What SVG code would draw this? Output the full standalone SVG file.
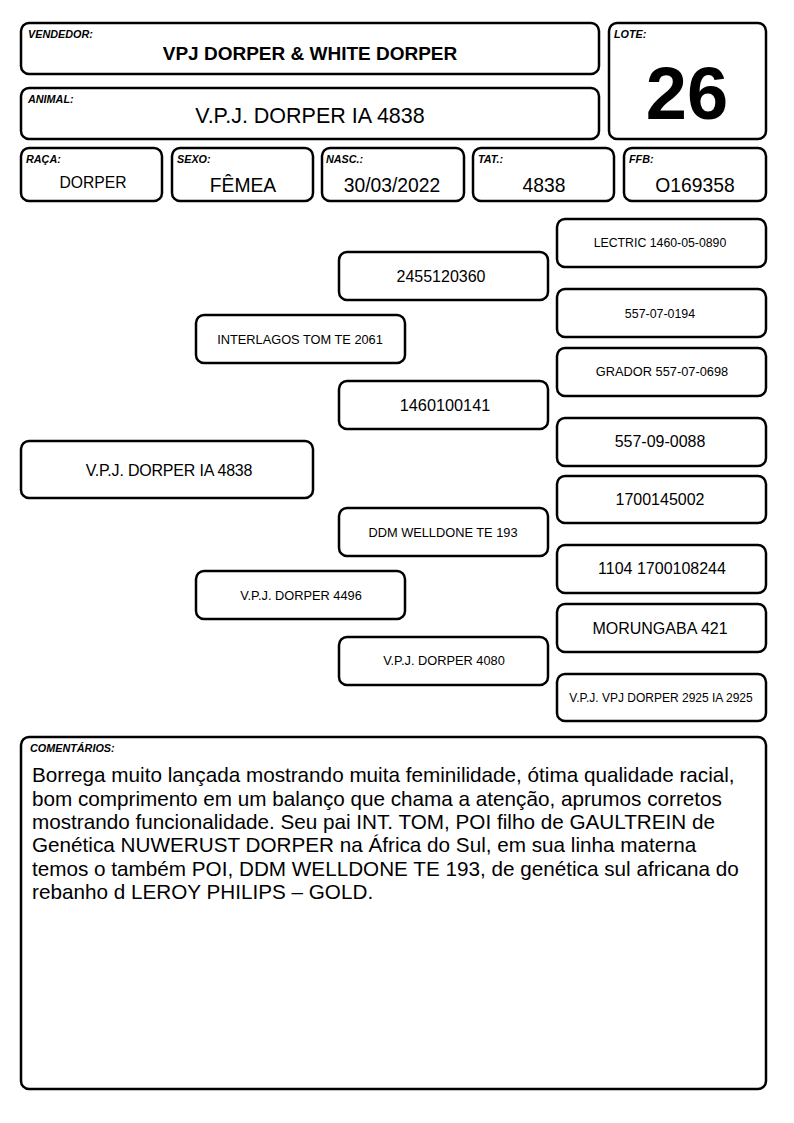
<svg xmlns="http://www.w3.org/2000/svg" width="794" height="1123" viewBox="0 0 794 1123">
<style>
.b{fill:#fff;stroke:#000;stroke-width:2.5}
text{font-family:"Liberation Sans",Arial,sans-serif;fill:#000}
.lbl{font-size:10.8px;font-weight:bold;font-style:italic}
.c{text-anchor:middle}
.v{font-size:19.3px}
.s{font-size:12.8px}
.m{font-size:16px}
.x{font-size:12.4px}
.cm{font-size:20.7px}
</style>
<rect width="794" height="1123" fill="#fff"/>
<g id="vendedor"><rect class="b" x="21" y="23" width="578" height="51" rx="8"/><text class="lbl" x="28" y="38">VENDEDOR:</text><text class="c" x="310" y="60" font-size="19" font-weight="bold">VPJ DORPER &amp; WHITE DORPER</text></g>
<g id="animal"><rect class="b" x="21" y="88" width="578" height="51" rx="8"/><text class="lbl" x="28" y="103">ANIMAL:</text><text class="c" x="310" y="123" font-size="21.5">V.P.J. DORPER IA 4838</text></g>
<g id="lote"><rect class="b" x="609" y="23" width="157" height="116" rx="8"/><text class="lbl" x="614" y="38">LOTE:</text><text class="c" x="687" y="119" font-size="74" font-weight="bold">26</text></g>
<g id="raca"><rect class="b" x="21" y="148" width="141" height="53" rx="8"/><text class="lbl" x="26" y="163">RAÇA:</text><text class="c" x="93" y="188" font-size="15.7">DORPER</text></g>
<g id="sexo"><rect class="b" x="172" y="148" width="141" height="53" rx="8"/><text class="lbl" x="177" y="163">SEXO:</text><text class="c v" x="243" y="192">FÊMEA</text></g>
<g id="nasc"><rect class="b" x="322" y="148" width="142" height="53" rx="8"/><text class="lbl" x="326" y="163">NASC.:</text><text class="c v" x="392" y="192">30/03/2022</text></g>
<g id="tat"><rect class="b" x="473" y="148" width="141" height="53" rx="8"/><text class="lbl" x="478" y="163">TAT.:</text><text class="c v" x="544" y="192">4838</text></g>
<g id="ffb"><rect class="b" x="624" y="148" width="142" height="53" rx="8"/><text class="lbl" x="629" y="163">FFB:</text><text class="c v" x="695" y="192">O169358</text></g>
<g id="connectors"></g>
<g id="p-animal"><rect class="b" x="21" y="441" width="292" height="57" rx="8"/><text class="c m" x="169" y="476" letter-spacing="-0.2">V.P.J. DORPER IA 4838</text></g>
<g id="pai"><rect class="b" x="196" y="315" width="209" height="48" rx="8"/><text class="c s" x="300" y="344">INTERLAGOS TOM TE 2061</text></g>
<g id="mae"><rect class="b" x="196" y="571" width="209" height="48" rx="8"/><text class="c s" x="301" y="600">V.P.J. DORPER 4496</text></g>
<g id="avo-pp"><rect class="b" x="339" y="252" width="209" height="48" rx="8"/><text class="c m" x="441" y="282">2455120360</text></g>
<g id="avo-pm"><rect class="b" x="339" y="381" width="209" height="48" rx="8"/><text class="c" x="445" y="411" font-size="16.3">1460100141</text></g>
<g id="avo-mp"><rect class="b" x="339" y="508" width="209" height="48" rx="8"/><text class="c s" x="443" y="537">DDM WELLDONE TE 193</text></g>
<g id="avo-mm"><rect class="b" x="339" y="637" width="209" height="48" rx="8"/><text class="c s" x="444" y="665">V.P.J. DORPER 4080</text></g>
<g id="b1"><rect class="b" x="557" y="219" width="209" height="48" rx="8"/><text class="c" x="660" y="247" font-size="12.3">LECTRIC 1460-05-0890</text></g>
<g id="b2"><rect class="b" x="557" y="289" width="209" height="48" rx="8"/><text class="c x" x="660" y="318">557-07-0194</text></g>
<g id="b3"><rect class="b" x="557" y="348" width="209" height="48" rx="8"/><text class="c s" x="662" y="376">GRADOR 557-07-0698</text></g>
<g id="b4"><rect class="b" x="557" y="418" width="209" height="48" rx="8"/><text class="c m" x="660" y="447">557-09-0088</text></g>
<g id="b5"><rect class="b" x="557" y="476" width="209" height="47" rx="8"/><text class="c m" x="660" y="505">1700145002</text></g>
<g id="b6"><rect class="b" x="557" y="545" width="209" height="48" rx="8"/><text class="c m" x="662" y="574">1104 1700108244</text></g>
<g id="b7"><rect class="b" x="557" y="604" width="209" height="48" rx="8"/><text class="c m" x="660" y="634">MORUNGABA 421</text></g>
<g id="b8"><rect class="b" x="557" y="674" width="209" height="47" rx="8"/><text class="c" x="661" y="702" font-size="12">V.P.J. VPJ DORPER 2925 IA 2925</text></g>
<g id="comentarios"><rect class="b" x="21" y="737" width="745" height="352" rx="8"/><text class="lbl" x="30" y="752">COMENTÁRIOS:</text>
<text class="cm"><tspan x="32" y="782">Borrega muito lançada mostrando muita feminilidade, ótima qualidade racial,</tspan><tspan x="32" y="806">bom comprimento em um balanço que chama a atenção, aprumos corretos</tspan><tspan x="32" y="829">mostrando funcionalidade. Seu pai INT. TOM, POI filho de GAULTREIN de</tspan><tspan x="32" y="852">Genética NUWERUST DORPER na África do Sul, em sua linha materna</tspan><tspan x="32" y="876">temos o também POI, DDM WELLDONE TE 193, de genética sul africana do</tspan><tspan x="32" y="899">rebanho d LEROY PHILIPS – GOLD.</tspan></text></g>
</svg>
